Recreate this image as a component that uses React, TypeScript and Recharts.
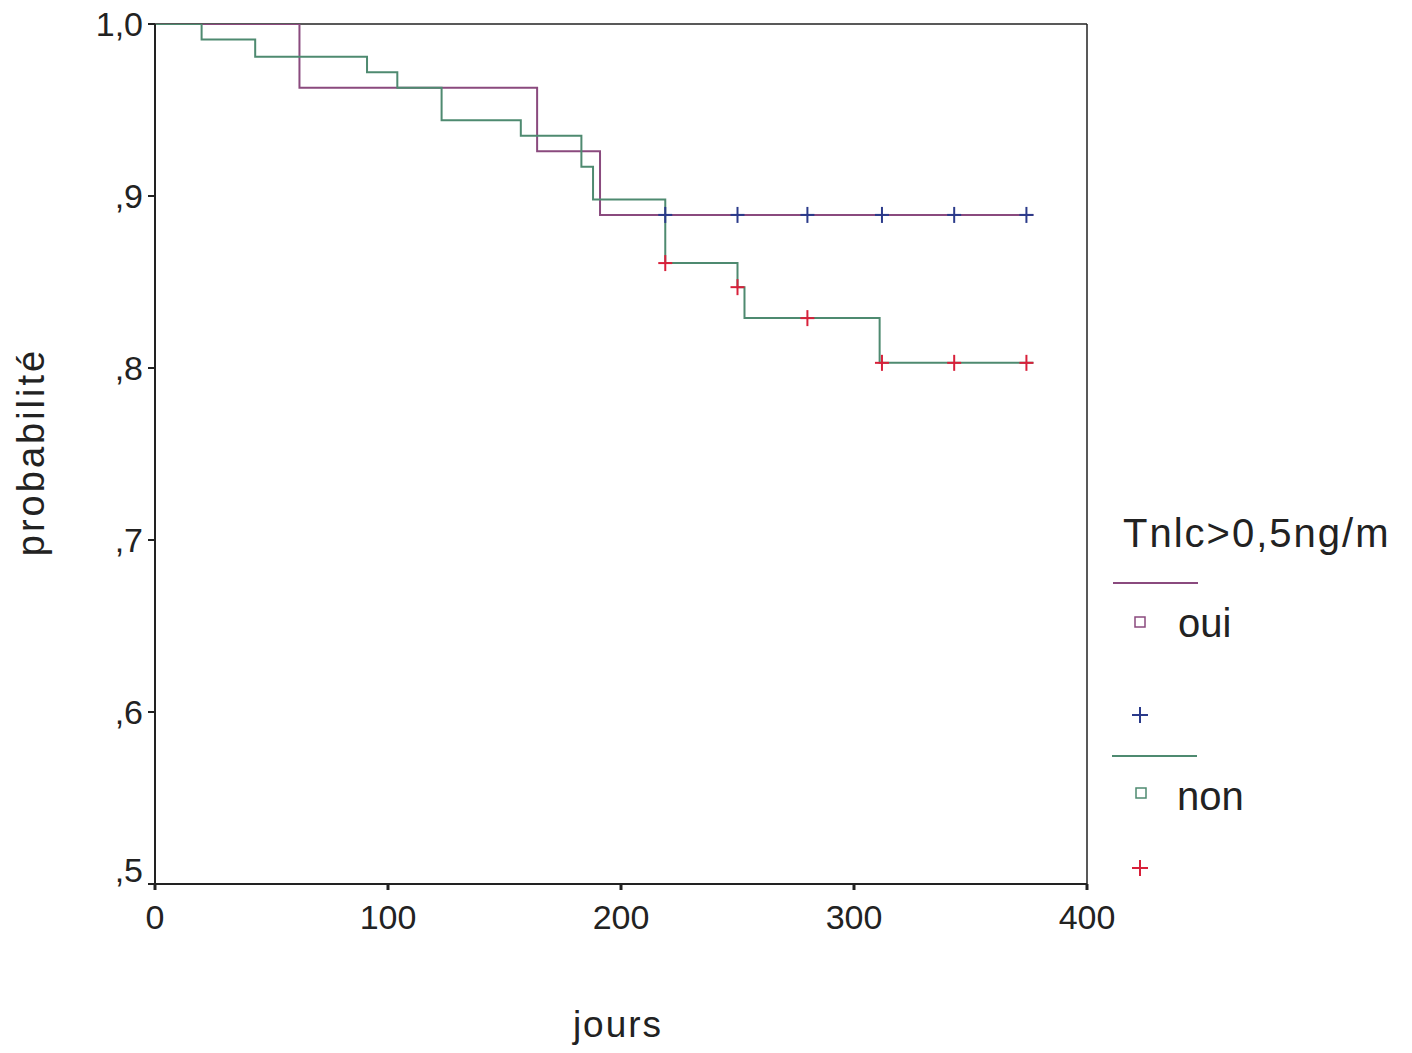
// Kaplan-Meier survival curves (Tnlc>0,5ng/m oui / non) drawn with recharts step lines,
// censor marks as "+" scatter shapes and a hand-built legend on the right.

import {
  ComposedChart,
  Legend,
  Line,
  ReferenceLine,
  Scatter,
  XAxis,
  YAxis,
} from "recharts";

const FONT = "'Liberation Sans', Arial, Helvetica, sans-serif";
const OUI_COLOR = "#8a4a7e";
const NON_COLOR = "#4e8a70";
const OUI_CENSOR = "#2a3a8a";
const NON_CENSOR = "#d8203a";

// step curves (day where the level starts, survival probability)
const ouiDays = [0, 62, 164, 191, 377];
const ouiProb = [1, 0.963, 0.926, 0.889, 0.889];
const nonDays = [0, 20, 43, 91, 104, 123, 157, 183, 188, 219, 250, 253, 311, 377];
const nonProb = [1, 0.991, 0.981, 0.972, 0.963, 0.944, 0.935, 0.917, 0.898, 0.861, 0.847, 0.829, 0.803, 0.803];

// censored observations
const ouiCensorDays = [219, 250, 280, 312, 343, 374];
const ouiCensorProb = [0.889, 0.889, 0.889, 0.889, 0.889, 0.889];
const nonCensorDays = [219, 250, 280, 312, 343, 374];
const nonCensorProb = [0.861, 0.847, 0.829, 0.803, 0.803, 0.803];

const xTicks = [0, 100, 200, 300, 400];
const yTicks = [0.5, 0.6, 0.7, 0.8, 0.9, 1.0];

const zip = (days: number[], probs: number[]) => days.map((day, i) => ({ day, p: probs[i] }));

const ouiCurve = zip(ouiDays, ouiProb);
const nonCurve = zip(nonDays, nonProb);
const ouiCensor = zip(ouiCensorDays, ouiCensorProb);
const nonCensor = zip(nonCensorDays, nonCensorProb);

function plusShape(color: string) {
  return (props: any) => {
    const { cx, cy } = props;
    if (cx == null || cy == null) return <g />;
    return (
      <g stroke={color} strokeWidth={2}>
        <line x1={cx - 7} y1={cy} x2={cx + 7} y2={cy} />
        <line x1={cx} y1={cy - 8} x2={cx} y2={cy + 8} />
      </g>
    );
  };
}

function fmtY(v: number) {
  if (Math.abs(v - 1) < 1e-6) return "1,0";
  return "," + Math.round(v * 10);
}

// y tick: the lowest label (",5") sits a little above its tick, as in the original
function YTick(props: any) {
  const { x, y, payload } = props;
  const lift = Math.abs(payload.value - 0.5) < 1e-6 ? -14 : 0;
  return (
    <text
      x={x}
      y={y + lift}
      dy="0.35em"
      textAnchor="end"
      fontFamily={FONT}
      fontSize={34}
      fill="#222"
    >
      {fmtY(payload.value)}
    </text>
  );
}

function KmLegend() {
  const txt = { fontFamily: FONT, fontSize: 40, fill: "#222" };
  return (
    <svg width={304} height={410}>
      <text x={23} y={57} letterSpacing={2} {...txt}>Tnlc&gt;0,5ng/m</text>
      <line x1={13} y1={93} x2={98} y2={93} stroke={OUI_COLOR} strokeWidth={2} />
      <rect x={35} y={127} width={10} height={10} fill="none" stroke={OUI_COLOR} strokeWidth={1.5} />
      <text x={78} y={147} {...txt}>oui</text>
      <g stroke={OUI_CENSOR} strokeWidth={2}>
        <line x1={32} y1={225} x2={48} y2={225} />
        <line x1={40} y1={217} x2={40} y2={233} />
      </g>
      <line x1={12} y1={266} x2={97} y2={266} stroke={NON_COLOR} strokeWidth={2} />
      <rect x={36} y={298} width={10} height={10} fill="none" stroke={NON_COLOR} strokeWidth={1.5} />
      <text x={77} y={320} {...txt}>non</text>
      <g stroke={NON_CENSOR} strokeWidth={2}>
        <line x1={32} y1={378} x2={48} y2={378} />
        <line x1={40} y1={370} x2={40} y2={386} />
      </g>
    </svg>
  );
}

export default function App() {
  const tickStyle = { fontFamily: FONT, fontSize: 34, fill: "#222" };
  return (
    <div style={{ margin: -8, width: 1412, height: 1053, background: "#fff" }}>
      <ComposedChart
        width={1412}
        height={1053}
        margin={{ top: 24, right: 325, bottom: 109, left: 55 }}
      >
        <XAxis
          dataKey="day"
          type="number"
          domain={[0, 400]}
          ticks={xTicks}
          allowDataOverflow
          height={60}
          tickSize={6}
          tickMargin={15}
          stroke="#222"
          strokeWidth={2}
          tick={tickStyle}
          tickLine={{ stroke: "#222", strokeWidth: 3 }}
          label={{
            content: () => (
              <text
                x={618}
                y={1037}
                textAnchor="middle"
                fontFamily={FONT}
                fontSize={37}
                letterSpacing={2}
                fill="#222"
              >
                jours
              </text>
            ),
          }}
        />
        <YAxis
          type="number"
          domain={[0.5, 1]}
          ticks={yTicks}
          allowDataOverflow
          width={100}
          tickSize={7}
          tickMargin={5}
          stroke="#222"
          strokeWidth={2}
          tick={<YTick />}
          tickLine={{ stroke: "#222", strokeWidth: 2 }}
          label={{
            content: () => (
              <text
                x={44}
                y={452}
                transform="rotate(-90 44 452)"
                textAnchor="middle"
                fontFamily={FONT}
                fontSize={38}
                letterSpacing={3}
                fill="#222"
              >
                probabilité
              </text>
            ),
          }}
        />
        <ReferenceLine y={1} stroke="#222" strokeWidth={1.5} />
        <ReferenceLine x={400} stroke="#222" strokeWidth={1.5} />
        <Line
          data={ouiCurve}
          dataKey="p"
          type="stepAfter"
          stroke={OUI_COLOR}
          strokeWidth={2}
          dot={false}
          isAnimationActive={false}
        />
        <Line
          data={nonCurve}
          dataKey="p"
          type="stepAfter"
          stroke={NON_COLOR}
          strokeWidth={2}
          dot={false}
          isAnimationActive={false}
        />
        <Scatter data={ouiCensor} dataKey="p" shape={plusShape(OUI_CENSOR)} isAnimationActive={false} />
        <Scatter data={nonCensor} dataKey="p" shape={plusShape(NON_CENSOR)} isAnimationActive={false} />
        <Legend
          layout="horizontal"
          align="center"
          verticalAlign="middle"
          content={() => <KmLegend />}
          wrapperStyle={{ position: "absolute", left: 1100, top: 490, width: 304, height: 410 }}
        />
      </ComposedChart>
    </div>
  );
}
